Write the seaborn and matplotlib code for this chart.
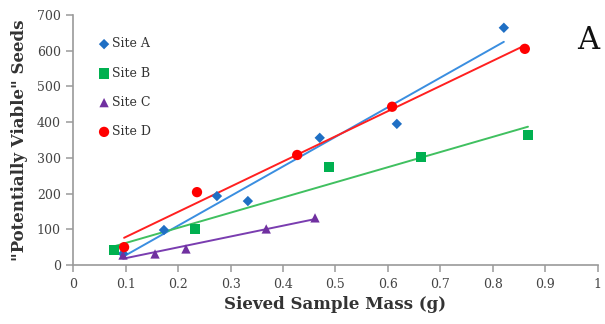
import matplotlib
matplotlib.use("Agg")
import matplotlib.pyplot as plt
import seaborn as sns
import pandas as pd

sns.set_theme(style="white")
plt.rcParams['font.family'] = ['DejaVu Serif']

site_a_x = [0.095, 0.173, 0.274, 0.333, 0.470, 0.617, 0.821]
site_a_y = [32, 98, 193, 179, 356, 395, 664]
site_b_x = [0.078, 0.232, 0.488, 0.663, 0.867]
site_b_y = [42, 101, 275, 302, 364]
site_c_x = [0.095, 0.156, 0.215, 0.368, 0.461]
site_c_y = [28, 31, 45, 101, 132]
site_d_x = [0.097, 0.236, 0.427, 0.608, 0.861]
site_d_y = [50, 204, 308, 443, 605]

sites = ["Site A", "Site B", "Site C", "Site D"]
xs = [site_a_x, site_b_x, site_c_x, site_d_x]
ys = [site_a_y, site_b_y, site_c_y, site_d_y]
marker_colors = ["#1f6fc4", "#00b050", "#7030a0", "#ff0000"]
line_colors = ["#3a8ee0", "#40c060", "#7a3db0", "#ff2020"]
markers = ["D", "s", "^", "o"]
sizes = [28, 55, 45, 55]

fig = plt.figure(figsize=(6.05, 3.24), dpi=100)
ax = fig.add_axes([0.121, 0.182, 0.867, 0.772])

handles = []
for name, x, y, mc, lc, m, s in zip(sites, xs, ys, marker_colors, line_colors, markers, sizes):
    df = pd.DataFrame({"x": x, "y": y})
    sns.regplot(data=df, x="x", y="y", ax=ax, ci=None, truncate=True,
                scatter=False, line_kws=dict(color=lc, lw=1.4, zorder=2))
    h = ax.scatter(df["x"], df["y"], marker=m, s=s, color=mc, zorder=3,
                   edgecolors="none", label=name)
    handles.append(h)

ax.set_xlim(0, 1)
ax.set_ylim(0, 700)
ax.set_xticks([0, 0.1, 0.2, 0.3, 0.4, 0.5, 0.6, 0.7, 0.8, 0.9, 1])
ax.set_xticklabels(["0", "0.1", "0.2", "0.3", "0.4", "0.5", "0.6", "0.7", "0.8", "0.9", "1"])
ax.set_yticks(range(0, 701, 100))
for sp in ["top", "right"]:
    ax.spines[sp].set_visible(False)
for sp in ["left", "bottom"]:
    ax.spines[sp].set_color("#9a9a9a")
    ax.spines[sp].set_linewidth(1.2)
ax.tick_params(axis="both", which="major", direction="out", length=5, width=1.1,
               color="#9a9a9a", labelsize=9, labelcolor="#444444", pad=4)
ax.tick_params(axis="x", bottom=True)
ax.tick_params(axis="y", left=True)

ax.set_xlabel("Sieved Sample Mass (g)", fontsize=12, fontweight="bold", color="#333333", labelpad=4)
ax.set_ylabel("\"Potentially Viable\" Seeds", fontsize=12, fontweight="bold", color="#333333", labelpad=6)

leg = ax.legend(handles=handles, loc="upper left", bbox_to_anchor=(0.035, 0.93), frameon=False,
                fontsize=9, labelspacing=1.3, handletextpad=0.0, handlelength=1.2, borderaxespad=0)
for t in leg.get_texts():
    t.set_color("#333333")

fig.text(0.99, 0.875, "A", fontsize=22, ha="right", va="center", color="#111111")

fig.savefig("out.png", dpi=100)
